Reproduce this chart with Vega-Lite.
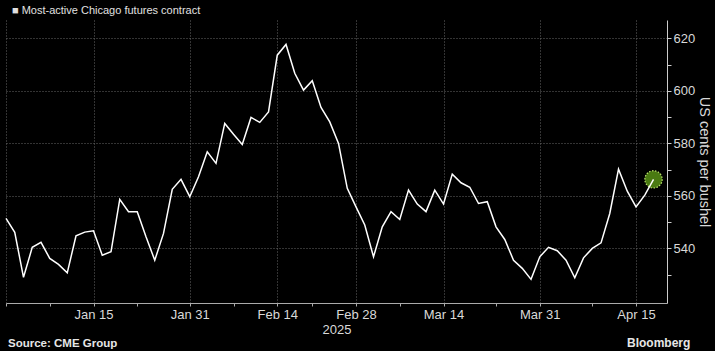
{
  "$schema": "https://vega.github.io/schema/vega-lite/v6.json",
  "width": 661,
  "height": 283,
  "autosize": {"type": "none"},
  "padding": {"left": 6, "top": 20, "right": 48, "bottom": 48},
  "background": "#000000",
  "title": {
    "text": "■ Most-active Chicago futures contract",
    "anchor": "start",
    "frame": "group",
    "dx": 6,
    "offset": 4,
    "font": "Liberation Sans",
    "fontSize": 11,
    "fontWeight": "normal",
    "color": "#e0e0e0"
  },
  "config": {
    "view": {"stroke": null},
    "axis": {
      "labelFont": "Liberation Sans",
      "titleFont": "Liberation Sans",
      "labelColor": "#d9d9d9",
      "titleColor": "#d9d9d9",
      "gridColor": "#666666",
      "gridDash": [1, 2],
      "gridWidth": 1
    }
  },
  "data": {
    "values": [
      {"date": "2024-12-31", "price": 551.4},
      {"date": "2025-01-02", "price": 546.1},
      {"date": "2025-01-03", "price": 529.0},
      {"date": "2025-01-06", "price": 540.4},
      {"date": "2025-01-07", "price": 542.3},
      {"date": "2025-01-08", "price": 536.2},
      {"date": "2025-01-09", "price": 533.9},
      {"date": "2025-01-10", "price": 530.7},
      {"date": "2025-01-13", "price": 544.8},
      {"date": "2025-01-14", "price": 546.2},
      {"date": "2025-01-15", "price": 546.7},
      {"date": "2025-01-16", "price": 537.4},
      {"date": "2025-01-17", "price": 538.7},
      {"date": "2025-01-21", "price": 558.7},
      {"date": "2025-01-22", "price": 554.0},
      {"date": "2025-01-23", "price": 554.0},
      {"date": "2025-01-24", "price": 544.4},
      {"date": "2025-01-27", "price": 535.5},
      {"date": "2025-01-28", "price": 545.7},
      {"date": "2025-01-29", "price": 562.5},
      {"date": "2025-01-30", "price": 566.3},
      {"date": "2025-01-31", "price": 559.7},
      {"date": "2025-02-03", "price": 567.3},
      {"date": "2025-02-04", "price": 576.8},
      {"date": "2025-02-05", "price": 572.4},
      {"date": "2025-02-06", "price": 587.6},
      {"date": "2025-02-07", "price": 583.5},
      {"date": "2025-02-10", "price": 579.6},
      {"date": "2025-02-11", "price": 589.9},
      {"date": "2025-02-12", "price": 588.0},
      {"date": "2025-02-13", "price": 592.0},
      {"date": "2025-02-14", "price": 613.6},
      {"date": "2025-02-18", "price": 617.7},
      {"date": "2025-02-19", "price": 606.7},
      {"date": "2025-02-20", "price": 600.3},
      {"date": "2025-02-21", "price": 603.9},
      {"date": "2025-02-24", "price": 593.7},
      {"date": "2025-02-25", "price": 588.2},
      {"date": "2025-02-26", "price": 580.0},
      {"date": "2025-02-27", "price": 562.9},
      {"date": "2025-02-28", "price": 555.8},
      {"date": "2025-03-03", "price": 548.9},
      {"date": "2025-03-04", "price": 536.8},
      {"date": "2025-03-05", "price": 548.2},
      {"date": "2025-03-06", "price": 554.0},
      {"date": "2025-03-07", "price": 551.0},
      {"date": "2025-03-10", "price": 562.2},
      {"date": "2025-03-11", "price": 556.9},
      {"date": "2025-03-12", "price": 554.0},
      {"date": "2025-03-13", "price": 562.2},
      {"date": "2025-03-14", "price": 556.9},
      {"date": "2025-03-17", "price": 568.3},
      {"date": "2025-03-18", "price": 565.0},
      {"date": "2025-03-19", "price": 563.3},
      {"date": "2025-03-20", "price": 557.1},
      {"date": "2025-03-21", "price": 557.8},
      {"date": "2025-03-24", "price": 548.2},
      {"date": "2025-03-25", "price": 543.4},
      {"date": "2025-03-26", "price": 535.5},
      {"date": "2025-03-27", "price": 532.4},
      {"date": "2025-03-28", "price": 528.2},
      {"date": "2025-03-31", "price": 536.8},
      {"date": "2025-04-01", "price": 540.4},
      {"date": "2025-04-02", "price": 539.1},
      {"date": "2025-04-03", "price": 535.5},
      {"date": "2025-04-04", "price": 528.8},
      {"date": "2025-04-07", "price": 536.4},
      {"date": "2025-04-08", "price": 540.0},
      {"date": "2025-04-09", "price": 542.1},
      {"date": "2025-04-10", "price": 553.3},
      {"date": "2025-04-11", "price": 570.2},
      {"date": "2025-04-14", "price": 561.8},
      {"date": "2025-04-15", "price": 555.8},
      {"date": "2025-04-16", "price": 560.3},
      {"date": "2025-04-17", "price": 566.3}
    ]
  },
  "encoding": {
    "x": {
      "field": "date",
      "type": "ordinal",
      "scale": {"type": "point", "padding": 0.77, "align": 0},
      "axis": {
        "values": ["2024-12-31", "2025-01-08", "2025-01-15", "2025-01-23", "2025-01-31", "2025-02-07", "2025-02-14", "2025-02-21", "2025-02-28", "2025-03-07", "2025-03-14", "2025-03-24", "2025-03-31", "2025-04-08", "2025-04-15"],
        "labelExpr": "indexof(['2025-01-15','2025-01-31','2025-02-14','2025-02-28','2025-03-14','2025-03-31','2025-04-15'], datum.value) >= 0 ? utcFormat(toDate(datum.value), '%b %d') : ''",
        "grid": true,
        "gridOpacity": {"condition": {"test": "indexof(['2024-12-31','2025-01-15','2025-01-31','2025-02-14','2025-02-28','2025-03-14','2025-03-31','2025-04-15'], datum.value) >= 0", "value": 1}, "value": 0},
        "labelAngle": 0,
        "labelFontSize": 13,
        "labelPadding": 2,
        "tickSize": 3,
        "tickColor": "#aaaaaa",
        "domainColor": "#aaaaaa",
        "title": "2025",
        "titleFontSize": 13,
        "titleFontWeight": "normal",
        "titlePadding": 2
      }
    },
    "y": {
      "field": "price",
      "type": "quantitative",
      "scale": {"domain": [519.2, 627], "nice": false, "zero": false},
      "axis": {
        "orient": "right",
        "values": [530, 540, 550, 560, 570, 580, 590, 600, 610, 620],
        "labelExpr": "datum.value % 20 === 0 ? datum.label : ''",
        "gridOpacity": {"condition": {"test": "datum.value % 20 === 0", "value": 1}, "value": 0},
        "labelFontSize": 13,
        "labelPadding": 2,
        "tickSize": 4,
        "tickColor": "#cccccc",
        "domainColor": "#cccccc",
        "title": "US cents per bushel",
        "titleFontSize": 14.5,
        "titleFontWeight": "normal",
        "titlePadding": 2
      }
    }
  },
  "layer": [
    {
      "transform": [{"filter": "datum.date === '2025-04-17'"}],
      "mark": {"type": "point", "filled": true, "size": 300, "fill": "#4a7a12", "fillOpacity": 1, "stroke": "#b9e26b", "strokeWidth": 1.2, "strokeDash": [1.5, 1.5], "opacity": 1}
    },
    {
      "mark": {"type": "line", "color": "#ffffff", "strokeWidth": 1.5}
    },
    {
      "data": {"values": [{"t": "Source: CME Group"}]},
      "mark": {"type": "text", "align": "left", "baseline": "alphabetic", "font": "Liberation Sans", "fontWeight": "bold", "fontSize": 11.5, "color": "#e6e6e6"},
      "encoding": {"text": {"field": "t"}, "x": {"value": 2}, "y": {"value": 327}}
    },
    {
      "data": {"values": [{"t": "Bloomberg"}]},
      "mark": {"type": "text", "align": "left", "baseline": "alphabetic", "font": "Liberation Sans", "fontWeight": "bold", "fontSize": 12, "color": "#e6e6e6"},
      "encoding": {"text": {"field": "t"}, "x": {"value": 621}, "y": {"value": 327}}
    }
  ]
}
